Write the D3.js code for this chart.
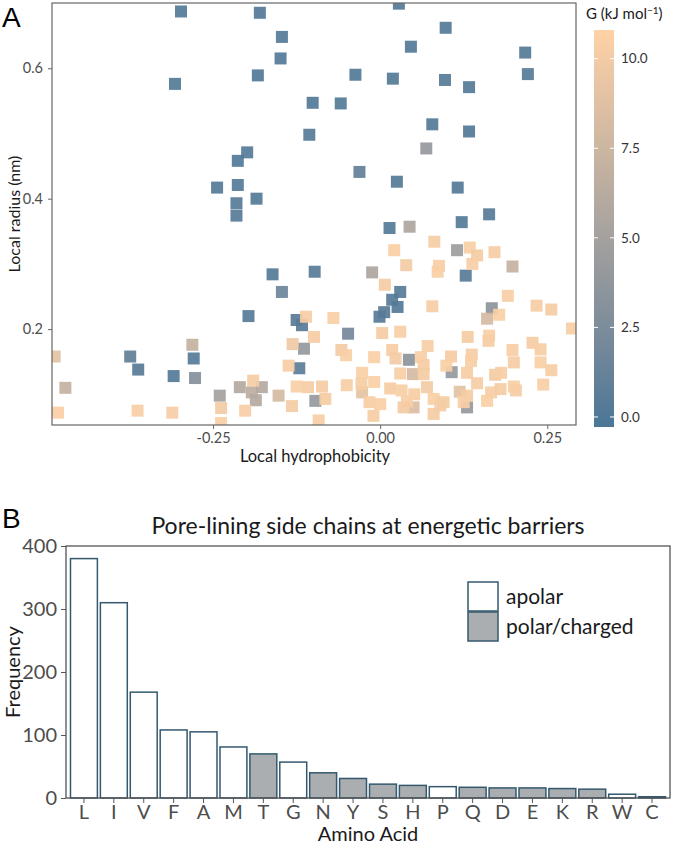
<!DOCTYPE html>
<html>
<head>
<meta charset="utf-8">
<script src="https://cdn.jsdelivr.net/npm/d3@7"></script>
<style>
  body { margin: 0; background: #fff; }
  svg { display: block; font-family: Lato, "Open Sans", sans-serif; }
</style>
</head>
<body>
<div class="svg-container"></div>
<script>
// ---- panel A: local hydrophobicity vs local radius, coloured by G ----
var hydrophobicity = [
  -0.298, -0.180, -0.147, -0.149, -0.183, -0.307, -0.199, -0.213, -0.244, -0.213, -0.185, -0.215,
  -0.215, -0.161, -0.147, -0.197, -0.125, -0.117, -0.121, -0.374, -0.362, -0.279, -0.309, -0.277,
  0.028, 0.098, 0.046, 0.217, 0.221, -0.037, 0.019, 0.097, 0.133, -0.101, -0.059, -0.106, 0.078,
  0.133, 0.069, -0.031, 0.025, 0.116, 0.163, 0.122, 0.014, 0.128, -0.098, 0.030, 0.018, 0.026,
  0.006, -0.001, -0.048,
  0.044, 0.115, -0.012, 0.198, 0.167, 0.160, -0.114, 0.043, 0.049, 0.107, -0.097, -0.281,
  -0.471, -0.240, -0.210, -0.192, -0.177, -0.186, -0.152, 0.050, 0.130, -0.027, 0.119, -0.487,
  -0.131, -0.137, -0.125, -0.132, -0.482, -0.363, -0.311, -0.238, -0.238, -0.190,
  -0.202, 0.081, 0.134, 0.145, 0.138, 0.171, 0.021, 0.039, 0.088, 0.086,
  0.007, 0.078, 0.191, 0.178, 0.234, 0.256, 0.287, -0.111, -0.070, 0.003,
  0.030, -0.099, -0.058, -0.051, 0.018, 0.071, 0.131, 0.163, 0.162, 0.198,
  0.228, 0.240, -0.009, 0.023, 0.061, 0.065, 0.106, 0.099, 0.137, 0.136,
  0.200, 0.240, 0.256, 0.030, 0.065, 0.130, 0.172, 0.181, -0.027, -0.108,
  -0.087, -0.050, -0.028, -0.009, 0.015, 0.032, 0.051, 0.070, 0.080, 0.130,
  0.145, 0.166, 0.180, 0.200, 0.203, 0.244, -0.082, -0.016, 0.000, 0.040,
  0.035, 0.090, 0.095, 0.125, 0.160, -0.010, 0.080, -0.092
];
var radius = [
  0.687, 0.685, 0.648, 0.615, 0.589, 0.576, 0.471, 0.458, 0.417, 0.421, 0.400, 0.393,
  0.374, 0.284, 0.257, 0.220, 0.214, 0.206, 0.140, 0.158, 0.138, 0.155, 0.128, 0.125,
  0.699, 0.662, 0.633, 0.624, 0.591, 0.590, 0.584, 0.582, 0.571, 0.547, 0.546, 0.498, 0.514,
  0.503, 0.477, 0.441, 0.426, 0.417, 0.376, 0.364, 0.355, 0.282, 0.288, 0.257, 0.245, 0.234,
  0.226, 0.219, 0.193,
  0.357, 0.321, 0.287, 0.296, 0.232, 0.216, 0.170, 0.153, 0.131, 0.134, 0.090, 0.176,
  0.110, 0.098, 0.111, 0.103, 0.111, 0.091, 0.098, 0.080, 0.080, 0.103, 0.104, 0.158,
  0.177, 0.144, 0.112, 0.082, 0.072, 0.075, 0.072, 0.079, 0.056, 0.121,
  0.075, 0.334, 0.325, 0.313, 0.300, 0.318, 0.321, 0.298, 0.297, 0.288,
  0.268, 0.235, 0.251, 0.222, 0.236, 0.230, 0.201, 0.219, 0.217, 0.194,
  0.196, 0.188, 0.168, 0.160, 0.168, 0.174, 0.188, 0.190, 0.182, 0.168,
  0.179, 0.169, 0.157, 0.155, 0.157, 0.145, 0.158, 0.144, 0.161, 0.151,
  0.149, 0.149, 0.137, 0.132, 0.131, 0.133, 0.130, 0.133, 0.133, 0.111,
  0.112, 0.114, 0.116, 0.119, 0.109, 0.106, 0.100, 0.111, 0.093, 0.098,
  0.117, 0.103, 0.108, 0.112, 0.106, 0.115, 0.093, 0.088, 0.085, 0.089,
  0.080, 0.083, 0.088, 0.088, 0.090, 0.067, 0.070, 0.060
];
var energy = [
  0.2, 0.1, 0.3, 0.2, 0.1, 0.2, 0.3, 0.1, 0.2, 0.3, 0.2, 0.4,
  0.3, 0.2, 1.5, 0.3, 0.5, 0.4, 0.6, 0.8, 0.4, 0.3, 0.2, 3.0,
  0.1, 0.2, 0.1, 0.2, 0.3, 0.1, 0.2, 0.3, 0.2, 0.1, 0.2, 0.3, 0.2,
  0.1, 4.0, 1.0, 0.2, 0.1, 0.3, 0.2, 0.2, 0.4, 0.5, 0.3, 0.3, 0.2,
  0.4, 0.3, 2.0,
  5.5, 4.5, 5.5, 7.0, 3.5, 8.0, 4.0, 3.5, 8.0, 4.0, 4.0, 7.0,
  7.0, 5.0, 6.0, 6.5, 6.0, 6.0, 8.0, 8.5, 4.0, 9.0, 9.0, 9.0,
  9.8, 10.2, 10.4, 10.1, 10.5, 10.3, 10.2, 10.0, 10.4, 10.1,
  10.3, 10.2, 10.4, 10.1, 10.3, 10.2, 10.5, 10.0, 10.3, 10.4,
  10.1, 10.2, 10.3, 10.4, 10.2, 10.1, 10.3, 10.2, 10.4, 10.1,
  10.3, 10.2, 10.0, 10.4, 10.2, 10.3, 10.1, 10.4, 10.2, 10.3,
  10.1, 10.2, 10.4, 10.0, 10.3, 10.2, 10.1, 10.4, 10.2, 10.3,
  10.1, 10.4, 10.2, 10.3, 10.1, 10.2, 10.0, 10.3, 10.4, 10.2,
  10.1, 10.3, 10.2, 10.4, 10.1, 10.3, 10.2, 10.0, 10.4, 10.1,
  10.2, 10.3, 10.1, 10.4, 10.2, 10.3, 10.1, 10.2, 10.4, 10.3,
  10.0, 10.2, 10.1, 10.3, 10.4, 10.2, 10.1, 10.3
];
var xTicksA = [-0.25, 0, 0.25];
var yTicksA = [0.2, 0.4, 0.6];
var energyTicks = [0, 2.5, 5, 7.5, 10];

// ---- panel B: residue counts ----
var aminoAcids = ["L", "I", "V", "F", "A", "M", "T", "G", "N", "Y", "S", "H", "P", "Q", "D", "E", "K", "R", "W", "C"];
var frequency = [380, 310, 168, 108, 105, 81, 70, 57, 40, 31, 22, 20, 18, 17, 16, 16, 15, 14, 6, 2];
var residueClass = ["apolar", "apolar", "apolar", "apolar", "apolar", "apolar", "polar/charged", "apolar",
  "polar/charged", "polar/charged", "polar/charged", "polar/charged", "apolar", "polar/charged",
  "polar/charged", "polar/charged", "polar/charged", "polar/charged", "apolar", "polar/charged"];
var classes = ["apolar", "polar/charged"];
var freqTicks = [0, 100, 200, 300, 400];

var W = 677, H = 846;
var svg = d3.select(".svg-container").append("svg")
    .attr("width", W)
    .attr("height", H);

var tickGrey = "#4d4d4d";

// ================= panel A =================
var xA = d3.scaleLinear().domain([-0.491, 0.293]).range([52, 576]),
    yA = d3.scaleLinear().domain([0.053, 0.700]).range([425, 3]),
    colour = d3.scaleLinear().domain([-0.28, 10.8]).range(["#4a7696", "#ffd2a5"]).interpolate(d3.interpolateLab);

svg.append("clipPath").attr("id", "clipA")
    .append("rect")
    .attr("x", 52).attr("y", 3)
    .attr("width", 524).attr("height", 422);

var pts = hydrophobicity.map(function (h, i) {
    return {x: h, y: radius[i], g: energy[i]};
});

svg.append("g")
    .attr("clip-path", "url(#clipA)")
    .selectAll("rect")
    .data(pts)
    .enter().append("rect")
    .attr("x", function (d) { return xA(d.x) - 6; })
    .attr("y", function (d) { return yA(d.y) - 6; })
    .attr("width", 12)
    .attr("height", 12)
    .attr("fill", function (d) { return colour(d.g); })
    .attr("fill-opacity", 0.92);

// frame
svg.append("rect")
    .attr("x", 52).attr("y", 3)
    .attr("width", 524).attr("height", 422)
    .attr("fill", "none")
    .attr("stroke", "#666")
    .attr("stroke-width", 1.2);

var axA = svg.append("g")
    .attr("transform", "translate(0,425)")
    .call(d3.axisBottom(xA).tickValues(xTicksA).tickSize(4).tickPadding(4)
        .tickFormat(function (d) { return d3.format(".2f")(d).replace("−", "-"); }));
var ayA = svg.append("g")
    .attr("transform", "translate(52,0)")
    .call(d3.axisLeft(yA).tickValues(yTicksA).tickSize(4).tickPadding(5).tickFormat(d3.format(".1f")));
[axA, ayA].forEach(function (a) {
    a.select(".domain").remove();
    a.selectAll("line").attr("stroke", "#666");
    a.selectAll("text").attr("fill", tickGrey).style("font-size", "14.5px").style("font-family", "Lato, sans-serif");
});

svg.append("text")
    .attr("x", 315).attr("y", 462)
    .attr("text-anchor", "middle")
    .style("font-size", "16.5px")
    .attr("fill", "#1a1a1a")
    .text("Local hydrophobicity");

svg.append("text")
    .attr("transform", "translate(20,214) rotate(-90)")
    .attr("text-anchor", "middle")
    .style("font-size", "16px")
    .attr("fill", "#1a1a1a")
    .text("Local radius (nm)");

// colour bar
var yBar = d3.scaleLinear().domain([-0.28, 10.8]).range([427, 30]);
var grad = svg.append("defs").append("linearGradient")
    .attr("id", "gbar")
    .attr("x1", 0).attr("y1", 1).attr("x2", 0).attr("y2", 0);
d3.range(0, 11).forEach(function (k) {
    var v = -0.28 + k / 10 * 11.08;
    grad.append("stop").attr("offset", k / 10).attr("stop-color", colour(v));
});
svg.append("rect")
    .attr("x", 594).attr("y", 30)
    .attr("width", 20).attr("height", 397)
    .attr("fill", "url(#gbar)");

var cbTicks = svg.append("g").selectAll("g")
    .data(energyTicks)
    .enter().append("g")
    .attr("transform", function (d) { return "translate(0," + yBar(d) + ")"; });
cbTicks.append("line").attr("x1", 594).attr("x2", 598).attr("stroke", "#fff").attr("stroke-width", 1);
cbTicks.append("line").attr("x1", 610).attr("x2", 614).attr("stroke", "#fff").attr("stroke-width", 1);
cbTicks.append("text")
    .attr("x", 621).attr("dy", "0.35em")
    .style("font-size", "13.5px")
    .attr("fill", "#333")
    .text(function (d) { return d3.format(".1f")(d); });

var cbTitle = svg.append("text")
    .attr("x", 586).attr("y", 19)
    .style("font-size", "15px")
    .attr("fill", "#1a1a1a");
cbTitle.append("tspan").text("G (kJ mol");
cbTitle.append("tspan").attr("dy", -5).style("font-size", "10px").text("−1");
cbTitle.append("tspan").attr("dy", 5).text(")");

// ================= panel B =================
var xB = d3.scaleBand().domain(aminoAcids).range([66, 670]).paddingInner(0.1).paddingOuter(0.15),
    yB = d3.scaleLinear().domain([0, 400]).range([798, 546]),
    fillB = d3.scaleOrdinal().domain(classes).range(["#ffffff", "#abaeb0"]);

var bars = aminoAcids.map(function (a, i) {
    return {aa: a, n: frequency[i], cls: residueClass[i]};
});

svg.append("g").selectAll("rect")
    .data(bars)
    .enter().append("rect")
    .attr("x", function (d) { return xB(d.aa); })
    .attr("y", function (d) { return yB(d.n); })
    .attr("width", xB.bandwidth())
    .attr("height", function (d) { return yB(0) - yB(d.n); })
    .attr("fill", function (d) { return fillB(d.cls); })
    .attr("stroke", "#34596f")
    .attr("stroke-width", 1.5);

svg.append("rect")
    .attr("x", 66).attr("y", 546)
    .attr("width", 604).attr("height", 252)
    .attr("fill", "none")
    .attr("stroke", "#555")
    .attr("stroke-width", 1.3);

var axB = svg.append("g")
    .attr("transform", "translate(0,798)")
    .call(d3.axisBottom(xB).tickSize(5).tickPadding(2));
var ayB = svg.append("g")
    .attr("transform", "translate(66,0)")
    .call(d3.axisLeft(yB).tickValues(freqTicks).tickSize(5).tickPadding(4));
[axB, ayB].forEach(function (a) {
    a.select(".domain").remove();
    a.selectAll("line").attr("stroke", "#555");
    a.selectAll("text").attr("fill", tickGrey).style("font-size", "20px").style("font-family", "Lato, sans-serif");
});

svg.append("text")
    .attr("x", 368).attr("y", 534)
    .attr("text-anchor", "middle")
    .style("font-size", "23px")
    .attr("fill", "#1a1a1a")
    .text("Pore-lining side chains at energetic barriers");

svg.append("text")
    .attr("x", 368).attr("y", 841)
    .attr("text-anchor", "middle")
    .style("font-size", "20px")
    .attr("fill", "#1a1a1a")
    .text("Amino Acid");

svg.append("text")
    .attr("transform", "translate(20,672) rotate(-90)")
    .attr("text-anchor", "middle")
    .style("font-size", "20px")
    .attr("fill", "#1a1a1a")
    .text("Frequency");

// legend
var leg = svg.append("g").selectAll("g")
    .data(classes)
    .enter().append("g")
    .attr("transform", function (d, i) { return "translate(468," + (582 + i * 30) + ")"; });
leg.append("rect")
    .attr("width", 30).attr("height", 29)
    .attr("fill", function (d) { return fillB(d); })
    .attr("stroke", "#34596f")
    .attr("stroke-width", 1.5);
leg.append("text")
    .attr("x", 38).attr("y", 15).attr("dy", "0.35em")
    .style("font-size", "21px")
    .attr("fill", "#1a1a1a")
    .text(function (d) { return d; });

// panel letters
svg.append("text")
    .attr("x", 2).attr("y", 27)
    .style("font-family", "'Liberation Sans', Arial, sans-serif")
    .style("font-size", "28px")
    .text("A");
svg.append("text")
    .attr("x", 2).attr("y", 528)
    .style("font-family", "'Liberation Sans', Arial, sans-serif")
    .style("font-size", "28px")
    .text("B");
</script>
</body>
</html>
